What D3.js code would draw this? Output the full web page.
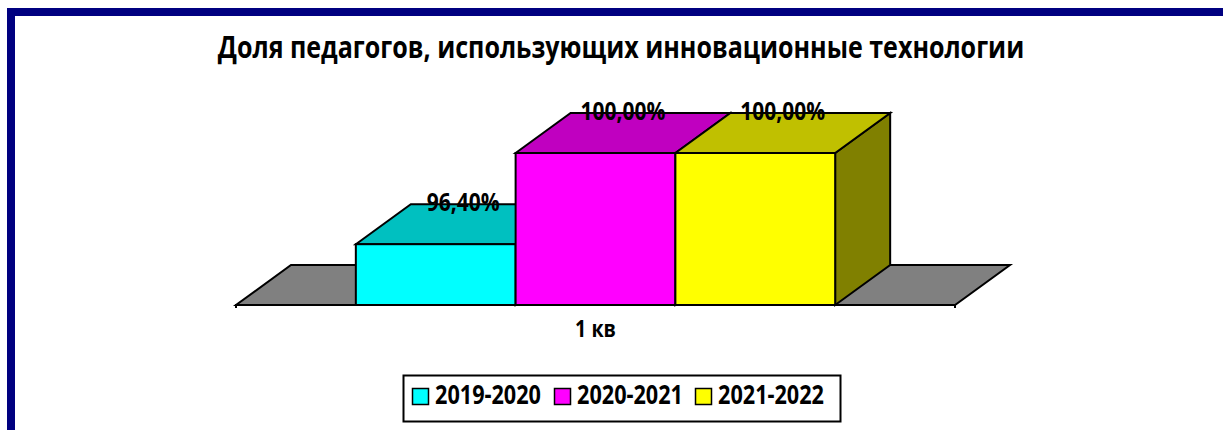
<!DOCTYPE html>
<html>
<head>
<meta charset="utf-8">
<script src="https://cdn.jsdelivr.net/npm/d3@7"></script>
<style>
  html, body { margin: 0; padding: 0; background: #fff; overflow: hidden; }
  svg { display: block; }
</style>
</head>
<body>
<div id="chart"></div>
<script>
const WIDTH = 1223;
const HEIGHT = 430;
const FONT = "'Open Sans', 'Noto Sans', sans-serif";
// the original font is narrower than Open Sans, so text is stretched a little vertically
const STRETCH = 1.2;

const title = "Доля педагогов, использующих инновационные технологии";
const categories = ["1 кв"];
const series = ["2019-2020", "2020-2021", "2021-2022"];
const values = [0.964, 1.0, 1.0];
const yDomain = [0.94, 1.0];

const frontColors = ["#00ffff", "#ff00ff", "#ffff00"];
const topColors = ["#00c0c0", "#c000c0", "#c0c000"];
const sideColors = ["#008080", "#800080", "#808000"];
const FLOOR_FILL = "#808080";

// 3d depth offset of the plot
const DEPTH_X = 55;
const DEPTH_Y = -40;

const locale = d3.formatLocale({
  decimal: ",",
  thousands: " ",
  grouping: [3],
  currency: ["", ""],
  percent: "%"
});
const fmt = locale.format(".2%");

const svg = d3.select("#chart")
  .append("svg")
  .attr("width", WIDTH)
  .attr("height", HEIGHT);

svg.append("rect")
  .attr("width", WIDTH)
  .attr("height", HEIGHT)
  .attr("fill", "#fff");

// outer frame, runs off the right and bottom edges
svg.append("rect")
  .attr("x", 11)
  .attr("y", 12)
  .attr("width", WIDTH + 20)
  .attr("height", HEIGHT + 20)
  .attr("fill", "none")
  .attr("stroke", "#000080")
  .attr("stroke-width", 8);

// font size that makes a text run as wide as the reference
const fitSize = (str, targetWidth) => {
  const probe = svg.append("text")
    .attr("font-family", FONT)
    .attr("font-weight", "bold")
    .attr("font-size", 20)
    .text(str);
  const w = probe.node().getComputedTextLength();
  probe.remove();
  return 20 * targetWidth / w;
};

const place = (tx, ty) => `translate(${tx},${ty}) scale(1,${STRETCH})`;

svg.append("text")
  .attr("transform", place(621, 58))
  .attr("text-anchor", "middle")
  .attr("font-family", FONT)
  .attr("font-weight", "bold")
  .attr("font-size", fitSize(title, 807))
  .attr("fill", "#000")
  .text(title);

const x = d3.scaleBand()
  .domain(categories)
  .range([236, 955]);
const gap = x.bandwidth() / 6;
const xs = d3.scaleBand()
  .domain(series)
  .range([gap, x.bandwidth() - gap]);
const y = d3.scaleLinear()
  .domain(yDomain)
  .range([305, 153]);

const plot = svg.append("g")
  .attr("stroke", "#000")
  .attr("stroke-width", 2)
  .attr("stroke-linejoin", "miter");

const y0 = y(yDomain[0]);
const [fx0, fx1] = x.range();

// floor
plot.append("path")
  .attr("fill", FLOOR_FILL)
  .attr("d", `M${fx0},${y0}L${fx1},${y0}L${fx1 + DEPTH_X},${y0 + DEPTH_Y}L${fx0 + DEPTH_X},${y0 + DEPTH_Y}Z`);

// category axis line with end ticks
plot.append("path")
  .attr("fill", "none")
  .attr("d", `M${fx0},${y0 + 3}V${y0}H${fx1}V${y0 + 3}`);

const bars = series.map((s, i) => ({
  name: s,
  value: values[i],
  x0: x(categories[0]) + xs(s),
  x1: x(categories[0]) + xs(s) + xs.bandwidth(),
  yTop: y(values[i]),
  i
}));

bars.forEach(b => {
  const g = plot.append("g");
  // right side face
  g.append("path")
    .attr("fill", sideColors[b.i])
    .attr("d", `M${b.x1},${y0}L${b.x1 + DEPTH_X},${y0 + DEPTH_Y}L${b.x1 + DEPTH_X},${b.yTop + DEPTH_Y}L${b.x1},${b.yTop}Z`);
  // top face
  g.append("path")
    .attr("fill", topColors[b.i])
    .attr("d", `M${b.x0},${b.yTop}L${b.x0 + DEPTH_X},${b.yTop + DEPTH_Y}L${b.x1 + DEPTH_X},${b.yTop + DEPTH_Y}L${b.x1},${b.yTop}Z`);
  // front face
  g.append("rect")
    .attr("fill", frontColors[b.i])
    .attr("x", b.x0)
    .attr("y", b.yTop)
    .attr("width", b.x1 - b.x0)
    .attr("height", y0 - b.yTop);
});

const labelSize = fitSize("100,00%", 85);

// data labels
svg.append("g")
  .selectAll("text")
  .data(bars)
  .join("text")
  .attr("transform", d => place((d.x0 + d.x1) / 2 + DEPTH_X / 2, d.yTop + DEPTH_Y + 7))
  .attr("text-anchor", "middle")
  .attr("font-family", FONT)
  .attr("font-weight", "bold")
  .attr("font-size", labelSize)
  .attr("fill", "#000")
  .text(d => fmt(d.value));

// category label
svg.append("text")
  .attr("transform", place(x(categories[0]) + x.bandwidth() / 2, 337))
  .attr("text-anchor", "middle")
  .attr("font-family", FONT)
  .attr("font-weight", "bold")
  .attr("font-size", fitSize(categories[0], 41))
  .text(categories[0]);

// legend
const legendSize = fitSize(series[0], 106);
const legend = svg.append("g");
legend.append("rect")
  .attr("x", 403.5)
  .attr("y", 375.5)
  .attr("width", 437)
  .attr("height", 46)
  .attr("fill", "#fff")
  .attr("stroke", "#000")
  .attr("stroke-width", 2);

const legendX = [412, 554, 695];
const items = legend.selectAll("g.item")
  .data(series)
  .join("g")
  .attr("class", "item")
  .attr("transform", (d, i) => `translate(${legendX[i]},388)`);
items.append("rect")
  .attr("x", 0.5)
  .attr("y", 0.5)
  .attr("width", 16)
  .attr("height", 16)
  .attr("fill", (d, i) => frontColors[i])
  .attr("stroke", "#000")
  .attr("stroke-width", 1.5);
items.append("text")
  .attr("transform", place(23, 16))
  .attr("font-family", FONT)
  .attr("font-weight", "bold")
  .attr("font-size", legendSize)
  .text(d => d);
</script>
</body>
</html>
